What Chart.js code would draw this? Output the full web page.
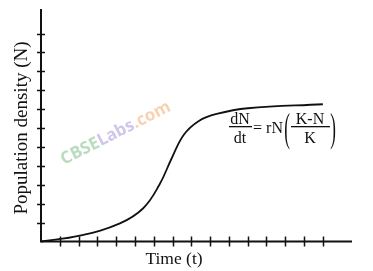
<!DOCTYPE html>
<html>
<head>
<meta charset="utf-8">
<script src="https://cdn.jsdelivr.net/npm/chart.js@4"></script>
<style>
  html, body { margin: 0; padding: 0; background: #fff; }
  #wrap { width: 373px; height: 271px; }
</style>
</head>
<body>
<div id="wrap"><canvas id="growthChart"></canvas></div>
<script>
// Logistic growth curve (tick units)
const curveTime = [0, 2.07, 4.2, 5.44, 6.3, 6.95, 7.6, 8.4, 9.35, 11.0, 15.0];
const curveDensity = [0, 0.31, 0.96, 1.76, 3.0, 4.39, 5.65, 6.38, 6.75, 7.05, 7.26];
const xTicks = [1, 2, 3, 4, 5, 6, 7, 8, 9, 10, 11, 12, 13, 14, 15];
const yTicks = [1, 2, 3, 4, 5, 6, 7, 8, 9, 10, 11];
const xLabel = 'Time (t)';
const yLabel = 'Population density (N)';

const serif = '"Liberation Serif", "DejaVu Serif", serif';

// tall thin bracket: normal glyph stretched vertically
function tallParen(ctx, ch, x, yMid) {
    ctx.save();
    ctx.translate(x, yMid);
    ctx.scale(1, 2.3);
    ctx.font = '17px ' + serif;
    ctx.textAlign = 'center';
    ctx.textBaseline = 'middle';
    ctx.fillText(ch, 0, 0);
    ctx.restore();
}

// axes with crossing tick marks, labels, formula and watermark
const decorPlugin = {
    id: 'decor',
    beforeDatasetsDraw(chart) {
        const ctx = chart.ctx;
        // watermark
        ctx.save();
        ctx.translate(64, 165);
        ctx.rotate(-27 * Math.PI / 180);
        ctx.font = 'bold 17px "Open Sans", "DejaVu Sans", sans-serif';
        ctx.textBaseline = 'alphabetic';
        let x = 0;
        [['CBSE', '#b9dcc0'], ['Labs', '#d0c6ea'], ['.com', '#f6d2b3']].forEach(p => {
            ctx.fillStyle = p[1];
            ctx.fillText(p[0], x, 0);
            x += ctx.measureText(p[0]).width;
        });
        ctx.restore();
    },
    afterDatasetsDraw(chart) {
        const ctx = chart.ctx;
        const xs = chart.scales.x, ys = chart.scales.y;
        const x0 = xs.getPixelForValue(0), y0 = ys.getPixelForValue(0);
        ctx.save();
        ctx.strokeStyle = '#111';
        ctx.lineWidth = 2;
        ctx.beginPath();
        ctx.moveTo(x0, ys.top);
        ctx.lineTo(x0, y0);
        ctx.lineTo(xs.right, y0);
        ctx.stroke();
        ctx.lineWidth = 1.5;
        ctx.beginPath();
        yTicks.forEach(v => {
            const py = Math.round(ys.getPixelForValue(v)) + 0.5;
            ctx.moveTo(x0 - 4, py);
            ctx.lineTo(x0 + 4, py);
        });
        xTicks.forEach(v => {
            const px = Math.round(xs.getPixelForValue(v)) + 0.5;
            ctx.moveTo(px, y0 - 5);
            ctx.lineTo(px, y0 + 5);
        });
        ctx.stroke();

        // axis titles
        ctx.fillStyle = '#111';
        ctx.font = '17.5px ' + serif;
        ctx.textAlign = 'center';
        ctx.textBaseline = 'middle';
        ctx.fillText(xLabel, 174, 259);
        ctx.save();
        ctx.translate(22, 128);
        ctx.rotate(-Math.PI / 2);
        ctx.font = '19px ' + serif;
        ctx.fillText(yLabel, 0, 0);
        ctx.restore();

        // formula dN/dt = rN((K-N)/K)
        ctx.font = '16px ' + serif;
        ctx.textBaseline = 'alphabetic';
        ctx.fillText('dN', 240, 124);
        ctx.fillText('dt', 240, 143);
        ctx.fillRect(229, 126, 23, 1.3);
        ctx.fillText('= rN', 268, 133);
        ctx.fillText('K-N', 310, 124);
        ctx.fillText('K', 310, 143);
        ctx.fillRect(291, 126, 39, 1.3);
        tallParen(ctx, '(', 287, 131);
        tallParen(ctx, ')', 333, 131);
        ctx.restore();
    }
};

new Chart(document.getElementById('growthChart'), {
    type: 'line',
    data: {
        datasets: [{
            data: curveTime.map((t, i) => ({ x: t, y: curveDensity[i] })),
            borderColor: '#111',
            borderWidth: 1.8,
            pointRadius: 0,
            fill: false,
            tension: 0.4,
            clip: false
        }]
    },
    options: {
        responsive: true,
        maintainAspectRatio: false,
        animation: false,
        layout: { padding: { left: 41, top: 9, right: 21, bottom: 29.5 } },
        scales: {
            x: { type: 'linear', min: 0, max: 16.55, display: false },
            y: { type: 'linear', min: 0, max: 12.3, display: false }
        },
        plugins: {
            legend: { display: false },
            tooltip: { enabled: false }
        }
    },
    plugins: [decorPlugin]
});
</script>
</body>
</html>
